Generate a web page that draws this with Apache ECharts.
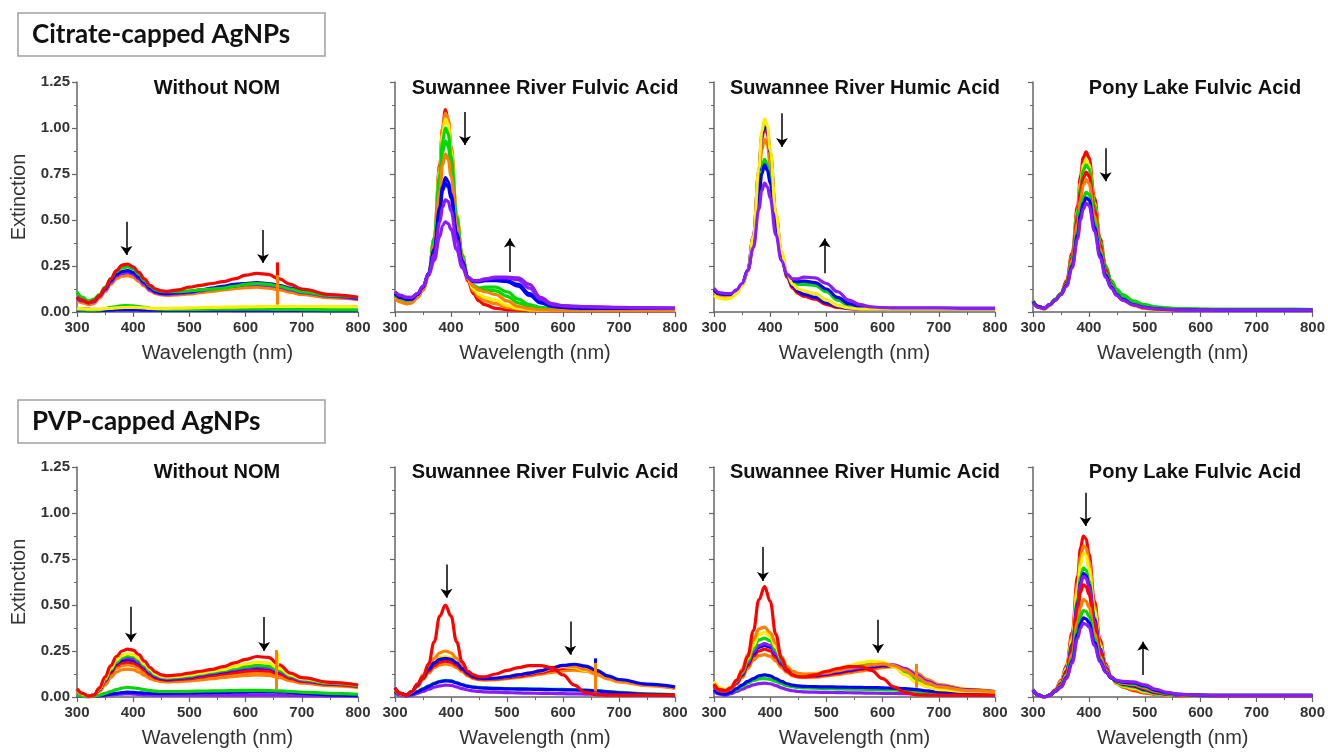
<!DOCTYPE html>
<html>
<head>
<meta charset="utf-8">
<script src="https://cdn.jsdelivr.net/npm/echarts@6/dist/echarts.min.js"></script>
<style>
  html, body { margin: 0; padding: 0; background: #fff; }
  #chart { width: 1328px; height: 752px; }
</style>
</head>
<body>
<div id="chart"></div>
<script>
// wavelength grid (nm) for the broad spectra
var wavelength = [300, 310, 320, 330, 340, 350, 360, 370, 380, 390,
  400, 410, 420, 430, 440, 450, 460,
  480, 500, 520, 540, 560, 580, 600, 620, 640, 660, 680, 700, 750, 800];
// denser around the plasmon peak for the sharp spectra
var wavelengthPeak = [300, 310, 320, 330, 340, 350, 360, 370,
  380, 385, 390, 395, 400,
  410, 420, 430, 440, 450, 460,
  480, 500, 520, 540, 560, 580, 600, 620, 640, 660, 680, 700, 750, 800];

var palette = { r: '#ff0000', o: '#ff7f00', y: '#ffee00', g: '#00d800', b: '#0000ff', v: '#8c1aff' };

/*---------- Citrate-capped AgNPs ----------*/
// without NOM
var citNoneKeys = ['v', 'b', 'g', 'y', 'o', 'o', 'v', 'b', 'g', 'r'];
var citNone = [
  [.02,.018,.016,.014,.012,.012,.013,.014,.015,.015, .015,.014,.013,.012,.011,.01,.01, .01,.01,.009,.009,.009,.008,.008,.008,.008,.008,.007,.007,.007,.007],
  [.012,.01,.008,.008,.008,.009,.01,.011,.012,.012, .012,.011,.01,.01,.01,.01,.01, .01,.01,.01,.01,.01,.01,.01,.01,.01,.01,.009,.009,.008,.008],
  [.015,.012,.01,.01,.012,.018,.025,.03,.034,.035, .033,.03,.025,.02,.017,.015,.014, .014,.014,.014,.015,.015,.015,.015,.015,.015,.014,.014,.013,.012,.012],
  [.02,.018,.015,.015,.016,.018,.02,.022,.024,.025, .025,.024,.022,.02,.02,.02,.02, .021,.022,.024,.025,.026,.027,.028,.029,.03,.03,.03,.03,.03,.03],
  [.06,.05,.04,.045,.075,.11,.15,.18,.195,.198, .19,.165,.14,.115,.10,.093,.09, .093,.098,.105,.112,.12,.127,.132,.135,.13,.12,.107,.095,.078,.068],
  [.07,.055,.045,.05,.08,.115,.155,.185,.20,.205, .195,.17,.145,.12,.105,.097,.095, .098,.103,.11,.118,.125,.132,.138,.14,.135,.125,.11,.097,.08,.07],
  [.07,.06,.05,.055,.085,.12,.16,.195,.21,.215, .205,.18,.15,.12,.105,.098,.097, .10,.105,.115,.125,.135,.14,.148,.15,.145,.135,.12,.105,.085,.07],
  [.08,.065,.055,.06,.09,.125,.17,.205,.22,.225, .215,.19,.16,.13,.11,.102,.10, .105,.11,.12,.13,.14,.15,.155,.16,.155,.145,.13,.115,.09,.075],
  [.11,.08,.06,.07,.095,.135,.18,.22,.24,.245, .235,.205,.17,.14,.12,.112,.11, .11,.115,.12,.125,.13,.14,.15,.155,.15,.14,.125,.11,.09,.08],
  [.08,.065,.05,.06,.09,.13,.18,.225,.255,.26, .245,.215,.18,.145,.125,.115,.112, .12,.135,.145,.155,.165,.18,.20,.21,.205,.18,.15,.125,.095,.08]
];
var citNoneArrows = [[388, 0.49, 0.31], [631, 0.445, 0.266]];
var citNoneSpikes = [[656, 0.19, 0.27, 'r'], [656, 0.04, 0.20, 'o']];

// Suwannee River Fulvic Acid (wavelengthPeak grid)
var citSrfaKeys = ['r', 'o', 'y', 'g', 'g', 'o', 'b', 'b', 'v', 'v'];
var citSrfa = [
  [.08,.06,.05,.055,.08,.12,.20,.40, .80,1.00,1.10,1.04,.90, .52,.30,.17,.10,.06,.04, .02,.012,.01,.008,.008,.008,.008,.008,.008,.008,.008,.008,.008,.008],
  [.075,.055,.045,.05,.08,.12,.20,.40, .79,1.00,1.08,1.05,.90, .53,.31,.18,.115,.08,.06, .045,.025,.015,.01,.01,.01,.01,.01,.01,.01,.01,.01,.01,.01],
  [.08,.06,.05,.055,.085,.125,.20,.40, .77,.97,1.05,1.02,.88, .53,.31,.185,.125,.095,.08, .065,.035,.02,.012,.01,.01,.01,.01,.01,.01,.01,.01,.01,.01],
  [.09,.07,.06,.065,.09,.13,.21,.40, .75,.93,1.00,.97,.85, .52,.31,.19,.14,.12,.12, .115,.085,.05,.03,.02,.015,.012,.012,.012,.012,.012,.012,.012,.012],
  [.09,.07,.06,.065,.09,.13,.21,.38, .70,.87,.93,.90,.80, .50,.30,.19,.145,.13,.135, .135,.11,.07,.04,.025,.018,.015,.013,.013,.013,.013,.013,.013,.013],
  [.075,.055,.045,.05,.08,.12,.20,.36, .66,.80,.86,.83,.74, .47,.29,.185,.14,.12,.11, .095,.06,.03,.018,.012,.01,.01,.01,.01,.01,.01,.01,.01,.01],
  [.10,.08,.07,.07,.095,.135,.21,.34, .57,.68,.73,.71,.64, .43,.28,.19,.165,.165,.17, .17,.165,.14,.09,.05,.03,.025,.022,.02,.02,.02,.02,.02,.02],
  [.10,.08,.07,.07,.095,.135,.21,.33, .55,.66,.70,.68,.62, .42,.275,.19,.165,.165,.172, .175,.17,.15,.10,.055,.033,.025,.022,.02,.02,.02,.02,.02,.02],
  [.11,.09,.08,.08,.10,.14,.21,.31, .49,.57,.61,.60,.55, .39,.26,.19,.17,.17,.178, .185,.185,.175,.13,.07,.04,.033,.03,.028,.027,.025,.024,.022,.02],
  [.11,.09,.08,.08,.10,.14,.20,.28, .41,.47,.49,.48,.45, .34,.24,.185,.17,.172,.18, .19,.19,.185,.15,.08,.045,.035,.032,.03,.028,.026,.025,.023,.02]
];
var citSrfaArrows = [[425, 1.087, 0.908], [505, 0.217, 0.40]];
var citSrfaSpikes = [];

// Suwannee River Humic Acid (wavelengthPeak grid)
var citSrhaKeys = ['r', 'o', 'g', 'b', 'b', 'y', 'v'];
var citSrha = [
  [.12,.10,.095,.095,.115,.15,.225,.41, .76,.94,1.01,.97,.85, .52,.31,.19,.13,.10,.085, .07,.04,.025,.018,.015,.015,.015,.015,.015,.015,.015,.015,.015,.015],
  [.11,.09,.085,.09,.11,.145,.22,.39, .71,.88,.94,.91,.80, .50,.31,.20,.145,.12,.11, .10,.065,.035,.022,.017,.015,.015,.015,.015,.015,.015,.015,.015,.015],
  [.12,.10,.095,.095,.115,.15,.225,.37, .64,.78,.83,.80,.72, .46,.30,.205,.165,.15,.15, .145,.11,.065,.035,.022,.018,.017,.017,.017,.017,.017,.017,.017,.017],
  [.12,.10,.095,.095,.115,.15,.225,.37, .62,.75,.80,.77,.70, .45,.295,.205,.17,.165,.168, .16,.125,.08,.045,.028,.022,.02,.02,.02,.02,.02,.02,.02,.02],
  [.12,.10,.095,.095,.115,.15,.225,.41, .77,.96,1.03,.99,.87, .53,.32,.20,.14,.11,.095, .08,.05,.03,.02,.016,.015,.015,.015,.015,.015,.015,.015,.015,.015],
  [.09,.075,.07,.075,.10,.14,.22,.41, .78,.98,1.05,1.01,.88, .54,.33,.21,.15,.125,.115, .10,.065,.035,.022,.016,.015,.015,.015,.015,.015,.015,.015,.015,.015],
  [.13,.105,.10,.10,.12,.155,.225,.35, .56,.66,.70,.68,.62, .42,.28,.205,.18,.18,.19, .185,.155,.11,.065,.04,.028,.024,.022,.022,.022,.022,.022,.02,.02]
];
var citSrhaArrows = [[421, 1.08, 0.897], [497, 0.21, 0.40]];
var citSrhaSpikes = [];

// Pony Lake Fulvic Acid (wavelengthPeak grid)
var citPlfaKeys = ['r', 'y', 'g', 'r', 'o', 'g', 'b', 'v'];
var citPlfa = [
  [.06,.03,.02,.04,.07,.10,.17,.32, .58,.74,.84,.87,.84, .62,.40,.25,.16,.11,.08, .045,.03,.02,.015,.013,.012,.012,.011,.011,.01,.01,.01,.01,.01],
  [.055,.025,.015,.035,.065,.095,.16,.30, .55,.70,.80,.83,.80, .59,.38,.23,.145,.095,.065, .035,.02,.012,.01,.01,.01,.01,.01,.01,.01,.01,.01,.01,.01],
  [.06,.03,.02,.04,.07,.10,.16,.30, .54,.68,.77,.80,.78, .58,.38,.25,.17,.125,.095, .06,.04,.028,.022,.019,.017,.016,.015,.015,.015,.015,.014,.014,.013],
  [.06,.03,.02,.04,.07,.10,.16,.29, .51,.65,.73,.76,.74, .55,.36,.23,.15,.10,.075, .045,.03,.02,.015,.013,.012,.012,.011,.011,.01,.01,.01,.01,.01],
  [.06,.025,.015,.035,.065,.095,.15,.28, .48,.61,.69,.72,.70, .52,.34,.21,.135,.09,.065, .035,.02,.012,.01,.01,.01,.01,.01,.01,.01,.01,.01,.01,.01],
  [.06,.03,.02,.04,.07,.10,.15,.26, .44,.56,.62,.65,.64, .48,.32,.21,.145,.105,.08, .05,.033,.024,.02,.018,.016,.015,.015,.015,.015,.015,.014,.014,.013],
  [.055,.03,.02,.04,.065,.095,.145,.25, .42,.53,.59,.62,.61, .46,.31,.20,.135,.095,.07, .04,.025,.018,.014,.012,.012,.011,.011,.01,.01,.01,.01,.01,.01],
  [.05,.025,.02,.04,.065,.095,.14,.24, .40,.50,.56,.59,.58, .44,.295,.19,.13,.09,.065, .038,.024,.017,.013,.012,.011,.01,.01,.01,.01,.01,.01,.01,.01]
];
var citPlfaArrows = [[430, 0.89, 0.71]];
var citPlfaSpikes = [];

/*---------- PVP-capped AgNPs ----------*/
// without NOM
var pvpNoneKeys = ['v', 'b', 'g', 'o', 'o', 'r', 'b', 'v', 'g', 'y', 'r'];
var pvpNone = [
  [.005,.003,.002,.003,.005,.008,.011,.014,.016,.017, .016,.014,.012,.011,.01,.01,.01, .01,.01,.01,.01,.01,.01,.01,.01,.01,.01,.009,.008,.006,.005],
  [.01,.005,.002,.004,.008,.012,.016,.02,.024,.026, .025,.023,.021,.02,.02,.02,.02, .021,.022,.023,.024,.025,.026,.027,.028,.028,.027,.025,.02,.012,.008],
  [.01,.005,.002,.004,.01,.02,.03,.04,.048,.052, .05,.045,.04,.035,.032,.03,.03, .03,.031,.032,.033,.034,.035,.036,.036,.035,.033,.03,.027,.02,.015],
  [.035,.012,.004,.008,.03,.065,.105,.135,.148,.152, .148,.135,.118,.10,.09,.084,.082, .084,.088,.093,.10,.106,.112,.117,.12,.117,.105,.088,.075,.062,.052],
  [.04,.015,.005,.01,.035,.075,.12,.155,.17,.175, .17,.155,.135,.112,.097,.09,.088, .09,.095,.102,.11,.117,.125,.13,.135,.132,.117,.095,.08,.065,.055],
  [.04,.015,.005,.01,.04,.085,.13,.17,.185,.19, .185,.17,.145,.12,.103,.095,.092, .095,.10,.108,.117,.125,.133,.14,.145,.142,.125,.10,.085,.068,.056],
  [.04,.015,.005,.01,.04,.09,.14,.18,.20,.205, .20,.185,.16,.13,.11,.10,.097, .10,.107,.117,.127,.137,.147,.155,.16,.157,.138,.11,.09,.072,.06],
  [.04,.015,.005,.01,.04,.09,.145,.185,.21,.215, .21,.19,.165,.135,.115,.104,.10, .104,.11,.12,.13,.14,.15,.158,.165,.16,.14,.11,.09,.072,.06],
  [.04,.015,.005,.01,.045,.095,.15,.19,.215,.225, .22,.20,.17,.14,.12,.108,.104, .108,.115,.125,.135,.145,.155,.165,.172,.168,.145,.115,.095,.075,.06],
  [.04,.015,.005,.01,.045,.10,.155,.20,.225,.235, .23,.21,.18,.15,.125,.112,.108, .112,.12,.13,.14,.15,.165,.18,.19,.185,.155,.12,.10,.08,.065],
  [.045,.02,.005,.01,.05,.11,.17,.22,.25,.26, .255,.23,.195,.16,.135,.12,.115, .12,.13,.14,.15,.165,.185,.205,.22,.215,.175,.13,.105,.08,.065]
];
var pvpNoneArrows = [[396, 0.49, 0.30], [633, 0.435, 0.25]];
var pvpNoneSpikes = [[657, 0.17, 0.24, 'y'], [655, 0.04, 0.255, 'o']];

// Suwannee River Fulvic Acid
var pvpSrfaKeys = ['v', 'g', 'b', 'o', 'r', 'y', 'o', 'b', 'r'];
var pvpSrfa = [
  [.02,.01,.005,.01,.02,.03,.042,.053,.06,.065, .063,.055,.045,.038,.033,.03,.028, .026,.024,.022,.021,.02,.019,.018,.017,.016,.015,.013,.012,.01,.008],
  [.03,.015,.008,.015,.03,.045,.06,.075,.085,.09, .088,.078,.068,.06,.055,.052,.05, .048,.046,.045,.044,.043,.042,.041,.04,.038,.035,.03,.025,.017,.012],
  [.03,.015,.008,.015,.028,.043,.058,.072,.083,.088, .086,.076,.066,.058,.053,.05,.048, .046,.044,.043,.042,.041,.04,.039,.038,.036,.033,.028,.023,.015,.01],
  [.04,.015,.008,.028,.055,.095,.13,.16,.175,.18, .175,.16,.138,.115,.10,.094,.092, .094,.10,.107,.115,.124,.134,.142,.146,.14,.122,.098,.082,.062,.048],
  [.045,.02,.01,.03,.06,.10,.14,.17,.19,.195, .19,.172,.148,.122,.106,.099,.097, .099,.105,.113,.122,.133,.145,.155,.16,.152,.132,.105,.088,.066,.05],
  [.045,.02,.01,.03,.065,.11,.155,.19,.215,.22, .215,.19,.16,.13,.112,.103,.10, .102,.11,.12,.13,.14,.155,.165,.16,.145,.125,.10,.085,.065,.05],
  [.045,.02,.01,.03,.07,.12,.17,.21,.24,.25, .24,.21,.17,.135,.115,.105,.10, .102,.11,.12,.13,.145,.16,.17,.165,.15,.125,.10,.085,.065,.05],
  [.05,.02,.01,.03,.065,.11,.15,.185,.205,.21, .205,.185,.155,.128,.11,.102,.10, .102,.11,.12,.13,.142,.158,.172,.178,.168,.145,.115,.095,.07,.055],
  [.05,.02,.01,.03,.07,.11,.18,.30,.44,.50, .44,.30,.19,.14,.12,.11,.11, .125,.145,.16,.17,.17,.16,.12,.065,.025,.012,.01,.01,.01,.01]
];
var pvpSrfaArrows = [[392, 0.72, 0.54], [613, 0.41, 0.23]];
var pvpSrfaSpikes = [[658, 0.13, 0.21, 'b'], [657, 0.03, 0.185, 'o']];

// Suwannee River Humic Acid
var pvpSrhaKeys = ['v', 'g', 'b', 'o', 'r', 'b', 'v', 'g', 'y', 'o', 'r'];
var pvpSrha = [
  [.03,.015,.01,.018,.03,.042,.055,.066,.073,.075, .072,.062,.05,.04,.034,.03,.028, .026,.025,.024,.023,.022,.021,.02,.019,.018,.016,.014,.012,.01,.008],
  [.045,.025,.018,.025,.04,.058,.075,.09,.098,.10, .096,.085,.073,.062,.056,.052,.05, .048,.046,.044,.043,.042,.041,.04,.038,.035,.03,.025,.02,.015,.012],
  [.04,.02,.015,.025,.045,.065,.085,.10,.115,.12, .115,.10,.085,.072,.064,.06,.058, .056,.055,.054,.053,.052,.051,.05,.048,.045,.04,.033,.027,.02,.015],
  [.06,.035,.03,.045,.07,.105,.155,.20,.225,.23, .222,.195,.16,.132,.115,.108,.106, .108,.114,.122,.131,.14,.15,.16,.165,.155,.13,.095,.068,.042,.03],
  [.06,.035,.03,.045,.075,.115,.17,.22,.25,.26, .25,.215,.175,.14,.122,.113,.111, .113,.12,.13,.14,.15,.16,.168,.168,.15,.115,.08,.058,.037,.028],
  [.065,.04,.035,.05,.08,.12,.18,.235,.27,.28, .27,.23,.185,.148,.128,.118,.116, .118,.125,.135,.145,.155,.165,.172,.17,.15,.115,.08,.058,.037,.028],
  [.065,.04,.035,.05,.08,.125,.185,.245,.28,.29, .28,.235,.19,.15,.13,.12,.118, .12,.128,.14,.15,.16,.17,.178,.175,.155,.12,.085,.06,.038,.03],
  [.07,.04,.035,.05,.085,.13,.195,.26,.31,.32, .305,.255,.20,.155,.135,.125,.122, .125,.135,.148,.16,.172,.182,.183,.165,.13,.095,.07,.052,.035,.028],
  [.085,.05,.04,.055,.09,.14,.21,.28,.34,.35, .33,.27,.21,.16,.138,.128,.125, .128,.14,.155,.17,.185,.195,.19,.165,.12,.08,.055,.04,.03,.025],
  [.07,.04,.035,.05,.09,.15,.23,.31,.37,.38, .35,.29,.22,.165,.14,.128,.124, .125,.133,.143,.155,.165,.175,.18,.17,.145,.11,.075,.055,.035,.03],
  [.07,.04,.035,.05,.09,.14,.22,.36,.53,.60, .52,.34,.21,.15,.12,.11,.11, .12,.14,.155,.165,.165,.145,.10,.055,.025,.012,.01,.01,.01,.01]
];
var pvpSrhaArrows = [[387, 0.815, 0.63], [592, 0.42, 0.24]];
var pvpSrhaSpikes = [[659, 0.05, 0.18, 'o']];

// Pony Lake Fulvic Acid (wavelengthPeak grid)
var pvpPlfaKeys = ['r', 'o', 'y', 'g', 'b', 'v', 'r', 'o', 'g', 'b', 'v'];
var pvpPlfa = [
  [.04,.01,0,.01,.04,.09,.17,.35, .66,.81,.875,.86,.78, .52,.31,.18,.11,.075,.055, .035,.022,.015,.01,.008,.007,.006,.005,.005,.005,.005,.005,.005,.005],
  [.04,.01,0,.01,.04,.085,.16,.33, .62,.76,.82,.81,.74, .49,.29,.17,.105,.072,.055, .04,.025,.015,.01,.008,.007,.006,.005,.005,.005,.005,.005,.005,.005],
  [.04,.01,0,.01,.04,.08,.155,.31, .59,.72,.78,.77,.70, .47,.28,.165,.105,.075,.06, .048,.03,.018,.012,.009,.008,.007,.006,.006,.006,.006,.006,.006,.006],
  [.04,.01,0,.01,.038,.075,.145,.29, .53,.65,.70,.69,.63, .43,.26,.16,.105,.078,.065, .055,.035,.02,.013,.01,.008,.007,.006,.006,.006,.006,.006,.006,.006],
  [.04,.01,0,.01,.036,.072,.14,.28, .51,.62,.67,.66,.61, .42,.26,.16,.108,.082,.07, .06,.04,.023,.015,.011,.009,.008,.007,.007,.007,.007,.007,.007,.007],
  [.04,.01,0,.01,.036,.07,.135,.27, .50,.61,.655,.645,.60, .41,.255,.16,.11,.085,.074, .066,.046,.027,.017,.012,.01,.009,.008,.008,.008,.008,.008,.008,.008],
  [.035,.01,0,.01,.034,.068,.13,.255, .47,.57,.61,.60,.56, .385,.24,.152,.105,.082,.072, .064,.046,.027,.017,.012,.01,.009,.008,.008,.008,.008,.008,.008,.008],
  [.035,.01,0,.01,.032,.062,.12,.23, .41,.49,.53,.52,.49, .345,.22,.145,.104,.083,.075, .068,.05,.03,.018,.013,.011,.01,.009,.009,.009,.009,.009,.009,.009],
  [.035,.01,0,.01,.03,.058,.11,.21, .37,.44,.47,.465,.44, .315,.205,.14,.103,.085,.078, .072,.055,.033,.02,.014,.012,.01,.009,.009,.009,.009,.009,.009,.009],
  [.035,.01,0,.01,.03,.055,.105,.195, .34,.40,.43,.425,.405, .295,.195,.136,.103,.087,.081, .076,.06,.036,.022,.015,.012,.01,.009,.009,.009,.009,.009,.009,.009],
  [.035,.01,0,.01,.03,.053,.10,.185, .32,.375,.40,.395,.38, .28,.19,.135,.105,.09,.085, .082,.066,.042,.025,.016,.012,.01,.009,.009,.009,.009,.009,.009,.009]
];
var pvpPlfaArrows = [[394, 1.11, 0.93], [497, 0.12, 0.30]];
var pvpPlfaSpikes = [];

var yTicks = [0, 0.25, 0.5, 0.75, 1.0, 1.25];

/*---------- panel layout ----------*/
var colLeft = [77, 395, 714, 1033];
var colWidth = [281, 280, 281, 280];
var titleX = [217, 545, 865, 1195];
var rowTop = [82, 467];
var titleY = [88, 472];
var plotHeight = 230;

var panels = [
  { row: 0, col: 0, title: 'Without NOM', x: wavelength, curves: citNone, keys: citNoneKeys, arrows: citNoneArrows, spikes: citNoneSpikes },
  { row: 0, col: 1, title: 'Suwannee River Fulvic Acid', x: wavelengthPeak, curves: citSrfa, keys: citSrfaKeys, arrows: citSrfaArrows, spikes: citSrfaSpikes },
  { row: 0, col: 2, title: 'Suwannee River Humic Acid', x: wavelengthPeak, curves: citSrha, keys: citSrhaKeys, arrows: citSrhaArrows, spikes: citSrhaSpikes },
  { row: 0, col: 3, title: 'Pony Lake Fulvic Acid', x: wavelengthPeak, curves: citPlfa, keys: citPlfaKeys, arrows: citPlfaArrows, spikes: citPlfaSpikes },
  { row: 1, col: 0, title: 'Without NOM', x: wavelength, curves: pvpNone, keys: pvpNoneKeys, arrows: pvpNoneArrows, spikes: pvpNoneSpikes },
  { row: 1, col: 1, title: 'Suwannee River Fulvic Acid', x: wavelength, curves: pvpSrfa, keys: pvpSrfaKeys, arrows: pvpSrfaArrows, spikes: pvpSrfaSpikes },
  { row: 1, col: 2, title: 'Suwannee River Humic Acid', x: wavelength, curves: pvpSrha, keys: pvpSrhaKeys, arrows: pvpSrhaArrows, spikes: pvpSrhaSpikes },
  { row: 1, col: 3, title: 'Pony Lake Fulvic Acid', x: wavelengthPeak, curves: pvpPlfa, keys: pvpPlfaKeys, arrows: pvpPlfaArrows, spikes: pvpPlfaSpikes }
];

var FONT = 'Liberation Sans, Arial, sans-serif';
var axisGray = '#666';

var grids = [], xAxes = [], yAxes = [], series = [];
var graphics = [
  { type: 'rect', shape: { x: 18, y: 13, width: 307, height: 43 }, style: { fill: '#fff', stroke: '#a0a0a0', lineWidth: 1.5 } },
  { type: 'text', x: 32, y: 35, style: { text: 'Citrate-capped AgNPs', fontFamily: 'Lato, sans-serif', fontWeight: 'bold', fontSize: 26, fill: '#111', align: 'left', verticalAlign: 'middle' } },
  { type: 'rect', shape: { x: 18, y: 400, width: 307, height: 43 }, style: { fill: '#fff', stroke: '#a0a0a0', lineWidth: 1.5 } },
  { type: 'text', x: 32, y: 422, style: { text: 'PVP-capped AgNPs', fontFamily: 'Lato, sans-serif', fontWeight: 'bold', fontSize: 26, fill: '#111', align: 'left', verticalAlign: 'middle' } }
];

panels.forEach(function (p, k) {
  var first = p.col === 0;
  grids.push({ left: colLeft[p.col], top: rowTop[p.row], width: colWidth[p.col], height: plotHeight, containLabel: false });

  xAxes.push({
    gridIndex: k, type: 'value', min: 300, max: 800, interval: 100,
    name: 'Wavelength (nm)', nameLocation: 'middle', nameGap: 31,
    nameTextStyle: { fontFamily: FONT, fontSize: 20, color: '#333' },
    axisLine: { show: true, lineStyle: { color: axisGray, width: 1.5 } },
    axisTick: { show: true, inside: false, length: 5, lineStyle: { color: axisGray, width: 1.2 } },
    minorTick: { show: true, splitNumber: 2, length: 3, lineStyle: { color: axisGray, width: 1 } },
    axisLabel: { show: true, margin: 8, fontFamily: FONT, fontSize: 15, fontWeight: 'bold', color: '#333', showMinLabel: true, showMaxLabel: true },
    splitLine: { show: false }
  });

  yAxes.push({
    gridIndex: k, type: 'value', min: yTicks[0], max: yTicks[yTicks.length - 1], interval: 0.25,
    name: first ? 'Extinction' : '', nameLocation: 'middle', nameGap: 48,
    nameTextStyle: { fontFamily: FONT, fontSize: 20, color: '#333' },
    axisLine: { show: true, lineStyle: { color: axisGray, width: 1.5 } },
    axisTick: { show: true, inside: false, length: 5, lineStyle: { color: axisGray, width: 1.2 } },
    minorTick: { show: true, splitNumber: 2, length: 3, lineStyle: { color: axisGray, width: 1 } },
    axisLabel: {
      show: first, margin: 7, fontFamily: FONT, fontSize: 15, fontWeight: 'bold', color: '#333',
      formatter: function (v) { return v.toFixed(2); }
    },
    splitLine: { show: false }
  });

  // spectra
  p.curves.forEach(function (vals, i) {
    var c = palette[p.keys[i]];
    series.push({
      type: 'line', xAxisIndex: k, yAxisIndex: k,
      data: p.x.map(function (w, j) { return [w, vals[j]]; }),
      showSymbol: false, smooth: 0.4, smoothMonotone: 'x', silent: true,
      lineStyle: { width: 3.2, color: c }, itemStyle: { color: c }, z: 2
    });
  });

  // lamp-change spikes near 656 nm
  if (p.spikes.length) {
    series.push({
      type: 'lines', coordinateSystem: 'cartesian2d', xAxisIndex: k, yAxisIndex: k, silent: true, z: 3,
      data: p.spikes.map(function (s) {
        return { coords: [[s[0], s[1]], [s[0], s[2]]], lineStyle: { color: palette[s[3]], width: 3, opacity: 1 } };
      }),
      symbol: 'none'
    });
  }

  // trend arrows
  series.push({
    type: 'lines', coordinateSystem: 'cartesian2d', xAxisIndex: k, yAxisIndex: k, silent: true, z: 5,
    data: p.arrows.map(function (a) { return { coords: [[a[0], a[1]], [a[0], a[2]]] }; }),
    symbol: ['none', 'arrow'], symbolSize: 9,
    lineStyle: { color: '#000', width: 1.5, opacity: 1 }
  });

  graphics.push({
    type: 'text', x: titleX[p.col], y: titleY[p.row],
    style: { text: p.title, fontFamily: FONT, fontWeight: 'bold', fontSize: 20, fill: '#111', align: 'center', verticalAlign: 'middle' }
  });
});

var chart = echarts.init(document.getElementById('chart'), null, { renderer: 'canvas' });
chart.setOption({
  animation: false,
  backgroundColor: '#fff',
  grid: grids,
  xAxis: xAxes,
  yAxis: yAxes,
  series: series,
  graphic: graphics
});
</script>
</body>
</html>
